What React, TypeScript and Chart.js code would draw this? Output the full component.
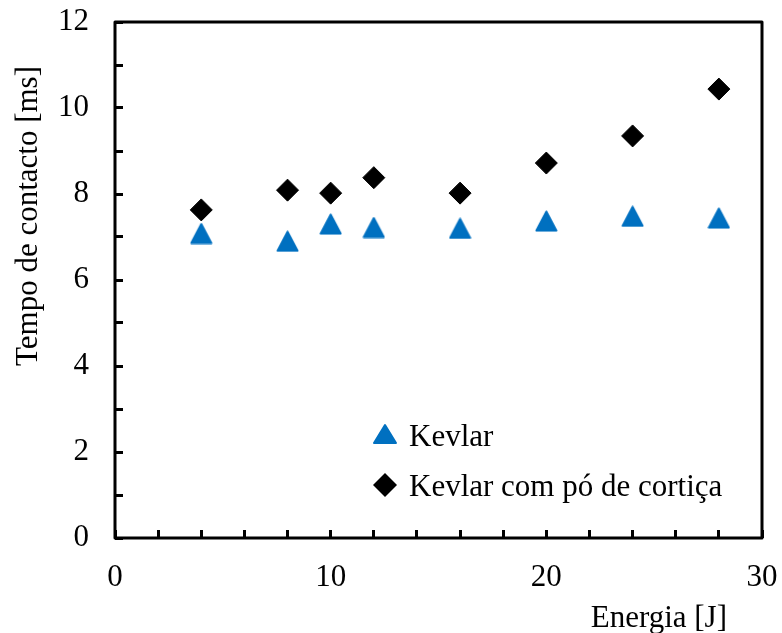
import React, { useEffect, useRef } from 'react';
import { Chart, registerables } from 'chart.js';

Chart.register(...registerables);

const energy = [4, 8, 10, 12, 16, 20, 24, 28];
const kevlar = [7.08, 6.9, 7.3, 7.22, 7.2, 7.37, 7.48, 7.44];
const kevlarCork = [7.63, 8.09, 8.02, 8.38, 8.02, 8.72, 9.35, 10.44];
const seriesLabels = ['Kevlar', 'Kevlar com pó de cortiça'];
const xTickLabels = [0, 10, 20, 30];
const yTickLabels = [0, 2, 4, 6, 8, 10, 12];
const xTitle = 'Energia [J]';
const yTitle = 'Tempo de contacto [ms]';

const FONT = '"Liberation Serif", "Times New Roman", serif';
const FONT_SIZE = 31;
const BLUE = '#0070C0';

function makeTriangle(w: number, h: number, color: string): HTMLCanvasElement {
  const c = document.createElement('canvas');
  c.width = w + 2;
  c.height = h + 2;
  const ctx = c.getContext('2d')!;
  ctx.fillStyle = color;
  ctx.strokeStyle = color;
  ctx.lineJoin = 'round';
  ctx.lineWidth = 2;
  ctx.beginPath();
  ctx.moveTo(c.width / 2, 1.5);
  ctx.lineTo(c.width - 1.5, c.height - 1.5);
  ctx.lineTo(1.5, c.height - 1.5);
  ctx.closePath();
  ctx.fill();
  ctx.stroke();
  return c;
}

const framePlugin = {
  id: 'frameAndText',
  afterDraw(chart: any) {
    const { ctx, chartArea } = chart;
    ctx.save();
    ctx.strokeStyle = '#000';
    ctx.lineWidth = 3;
    ctx.lineJoin = 'round';
    ctx.strokeRect(chartArea.left, chartArea.top, chartArea.right - chartArea.left, chartArea.bottom - chartArea.top);

    ctx.fillStyle = '#000';
    ctx.font = `${FONT_SIZE}px ${FONT}`;
    ctx.textAlign = 'right';
    ctx.textBaseline = 'alphabetic';
    ctx.fillText(xTitle, 727, 627);
    ctx.save();
    ctx.translate(37, 216);
    ctx.rotate(-Math.PI / 2);
    ctx.textAlign = 'center';
    ctx.fillText(yTitle, 0, 0);
    ctx.restore();

    const ds = chart.data.datasets;
    const rows = [
      { cy: 434, base: 446 },
      { cy: 485, base: 496 },
    ];
    ds.forEach((d: any, i: number) => {
      const r = rows[i];
      const mx = 385;
      ctx.fillStyle = d.backgroundColor;
      ctx.beginPath();
      if (i === 0) {
        ctx.lineJoin = 'round';
        ctx.strokeStyle = d.backgroundColor;
        ctx.lineWidth = 2;
        ctx.moveTo(mx, r.cy - 9);
        ctx.lineTo(mx + 11, r.cy + 9);
        ctx.lineTo(mx - 11, r.cy + 9);
        ctx.closePath();
        ctx.fill();
        ctx.stroke();
      } else {
        ctx.moveTo(mx, r.cy - 12);
        ctx.lineTo(mx + 12, r.cy);
        ctx.lineTo(mx, r.cy + 12);
        ctx.lineTo(mx - 12, r.cy);
        ctx.closePath();
        ctx.fill();
      }
      ctx.fillStyle = '#000';
      ctx.textAlign = 'left';
      ctx.textBaseline = 'alphabetic';
      ctx.fillText(d.label, 409, r.base);
    });
    ctx.restore();
  },
};

const zeroPad = (s: any) => {
  s.paddingTop = 0;
  s.paddingBottom = 0;
  s.paddingLeft = 0;
  s.paddingRight = 0;
};

export default function App() {
  const ref = useRef<HTMLCanvasElement | null>(null);

  useEffect(() => {
    document.body.style.margin = '0';
    const canvas = ref.current!;
    const tri = makeTriangle(21, 20, BLUE);
    const chart = new Chart(canvas, {
      type: 'scatter',
      data: {
        datasets: [
          {
            label: seriesLabels[0],
            data: energy.map((x, i) => ({ x, y: kevlar[i] })),
            pointStyle: tri as any,
            pointRadius: 11,
            backgroundColor: BLUE,
            borderColor: BLUE,
            showLine: false,
          },
          {
            label: seriesLabels[1],
            data: energy.map((x, i) => ({ x, y: kevlarCork[i] })),
            pointStyle: 'rectRot',
            pointRadius: 11,
            backgroundColor: '#000',
            borderColor: '#000',
            borderWidth: 1,
            showLine: false,
          },
        ],
      },
      options: {
        animation: false,
        responsive: false,
        devicePixelRatio: 1,
        layout: { padding: { top: 22, right: 20, left: 0, bottom: 0 } },
        plugins: { legend: { display: false }, tooltip: { enabled: false } },
        scales: {
          x: {
            type: 'linear',
            min: 0,
            max: 30,
            border: { display: false },
            grid: { drawOnChartArea: false, drawTicks: true, tickLength: -8, color: '#000', lineWidth: 3 },
            ticks: {
              stepSize: 2,
              autoSkip: false,
              maxRotation: 0,
              padding: 29,
              color: '#000',
              font: { family: FONT, size: FONT_SIZE },
              callback: (v: any) => (xTickLabels.includes(Number(v)) ? String(v) : ''),
            },
            afterFit: (s: any) => {
              s.height = 95;
              zeroPad(s);
            },
          },
          y: {
            type: 'linear',
            min: 0,
            max: 12,
            border: { display: false },
            grid: { drawOnChartArea: false, drawTicks: true, tickLength: -8, color: '#000', lineWidth: 3 },
            ticks: {
              stepSize: 1,
              autoSkip: false,
              padding: 34,
              color: '#000',
              font: { family: FONT, size: FONT_SIZE },
              callback: (v: any) => (yTickLabels.includes(Number(v)) ? String(v) : ''),
            },
            afterFit: (s: any) => {
              s.width = 115;
              zeroPad(s);
            },
          },
        },
      },
      plugins: [framePlugin],
    });
    return () => chart.destroy();
  }, []);

  return <canvas ref={ref} width={782} height={633} style={{ display: 'block', width: 782, height: 633 }} />;
}
